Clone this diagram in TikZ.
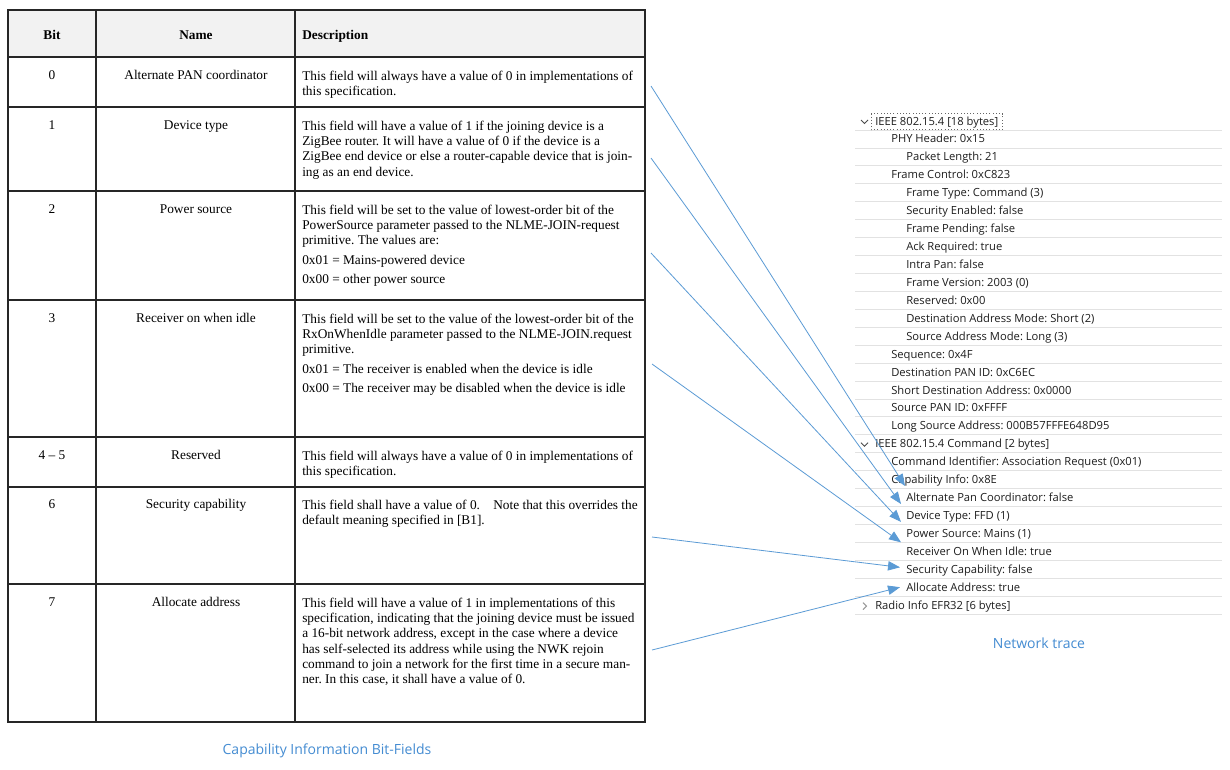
\documentclass[tikz,border=0pt]{standalone}
\usepackage{fontspec}
\setmainfont{Liberation Serif}
\newfontfamily\uifont{Open Sans}
\usetikzlibrary{arrows.meta}
\frenchspacing

\definecolor{arrowblue}{RGB}{91,155,213}
\definecolor{capblue}{RGB}{68,140,210}
\definecolor{headgray}{RGB}{242,242,242}
\definecolor{sepgray}{RGB}{226,226,226}
\definecolor{tracetext}{RGB}{30,30,30}

\tikzset{
  tabline/.style={line width=1.1pt, black!85},
  cell/.style={inner sep=0pt, font=\fontsize{10pt}{11.5pt}\selectfont},
  head/.style={cell, anchor=base, font=\fontsize{10pt}{11.5pt}\selectfont\bfseries},
  desc/.style={cell, anchor=north west, align=left},
  trow/.style={inner sep=0pt, anchor=mid west, text=tracetext,
    font=\uifont\fontsize{8.4pt}{10pt}\selectfont},
  sepline/.style={sepgray, line width=0.6pt},
  chev/.style={line width=0.7pt, black!70},
  caption/.style={inner sep=0pt, text=capblue, font=\uifont\fontsize{10.5pt}{12pt}\selectfont}
}

\begin{document}
\begin{tikzpicture}[x=0.75pt,y=-0.75pt]

        \path[fill=white,use as bounding box] (0,0) rectangle (1230,769);

        % table
        \fill[headgray] (8,10) rectangle (645,57);
        \draw[tabline] (8,10) rectangle (645,722);
        \draw[tabline] (96,10) -- (96,722);
        \draw[tabline] (295,10) -- (295,722);
        \draw[tabline] (8,57) -- (645,57);
        \draw[tabline] (8,107) -- (645,107);
        \draw[tabline] (8,191) -- (645,191);
        \draw[tabline] (8,300) -- (645,300);
        \draw[tabline] (8,437) -- (645,437);
        \draw[tabline] (8,487) -- (645,487);
        \draw[tabline] (8,584) -- (645,584);

        \node[head] (hbit)  at (52,39)  {Bit};
        \node[head] (hname) at (196,39) {Name};
        \node[head,anchor=base west] (hdesc) at (302,39) {Description};

        \begin{scope}[every node/.style={cell,anchor=base}]
          \node (b0) at (52,79.5)  {0};
          \node (b1) at (52,129.5) {1};
          \node (b2) at (52,213.5) {2};
          \node (b3) at (52,322.5) {3};
          \node (b4) at (52,459.5) {4 -- 5};
          \node (b6) at (52,508.5) {6};
          \node (b7) at (52,606.5) {7};
          \node (n0) at (196,79.5)  {Alternate PAN coordinator};
          \node (n1) at (196,129.5) {Device type};
          \node (n2) at (196,213.5) {Power source};
          \node (n3) at (196,322.5) {Receiver on when idle};
          \node (n4) at (196,459.5) {Reserved};
          \node (n6) at (196,508.5) {Security capability};
          \node (n7) at (196,606.5) {Allocate address};
        \end{scope}

        \node[desc] (d0) at (302,70.5) {This field will always have a value of 0 in implementations of\\
          this specification.};
        \node[desc] (d1) at (302,120.5) {This field will have a value of 1 if the joining device is a\\
          ZigBee router. It will have a value of 0 if the device is a\\
          ZigBee end device or else a router-capable device that is join-\\
          ing as an end device.};
        \node[desc] (d2) at (302,204.5) {This field will be set to the value of lowest-order bit of the\\
          PowerSource parameter passed to the NLME-JOIN-request\\
          primitive. The values are:\\[3pt]
          0x01 = Mains-powered device\\[3pt]
          0x00 = other power source};
        \node[desc] (d3) at (302,313.5) {This field will be set to the value of the lowest-order bit of the\\
          RxOnWhenIdle parameter passed to the NLME-JOIN.request\\
          primitive.\\[3pt]
          0x01 = The receiver is enabled when the device is idle\\[3pt]
          0x00 = The receiver may be disabled when the device is idle};
        \node[desc] (d4) at (302,450.5) {This field will always have a value of 0 in implementations of\\
          this specification.};
        \node[desc] (d6) at (302,499.5) {This field shall have a value of 0.\quad Note that this overrides the\\
          default meaning specified in [B1].};
        \node[desc] (d7) at (302,597.5) {This field will have a value of 1 in implementations of this\\
          specification, indicating that the joining device must be issued\\
          a 16-bit network address, except in the case where a device\\
          has self-selected its address while using the NWK rejoin\\
          command to join a network for the first time in a secure man-\\
          ner. In this case, it shall have a value of 0.};

        \node[caption] (captab) at (327,751) {Capability Information Bit-Fields};

        % network trace
        \foreach \k in {0,...,27}
          \draw[sepline] (855,{130+17.93*\k}) -- (1222,{130+17.93*\k});

        \begin{scope}[every node/.style={trow}]
          \node (t0)  at (875,122.0) {IEEE 802.15.4 [18 bytes]};
          \node (t1)  at (891,139.9) {PHY Header: 0x15};
          \node (t2)  at (906,157.9) {Packet Length: 21};
          \node (t3)  at (891,175.8) {Frame Control: 0xC823};
          \node (t4)  at (906,193.7) {Frame Type: Command (3)};
          \node (t5)  at (906,211.7) {Security Enabled: false};
          \node (t6)  at (906,229.6) {Frame Pending: false};
          \node (t7)  at (906,247.5) {Ack Required: true};
          \node (t8)  at (906,265.4) {Intra Pan: false};
          \node (t9)  at (906,283.4) {Frame Version: 2003 (0)};
          \node (t10) at (906,301.3) {Reserved: 0x00};
          \node (t11) at (906,319.2) {Destination Address Mode: Short (2)};
          \node (t12) at (906,337.2) {Source Address Mode: Long (3)};
          \node (t13) at (891,355.1) {Sequence: 0x4F};
          \node (t14) at (891,373.0) {Destination PAN ID: 0xC6EC};
          \node (t15) at (891,391.0) {Short Destination Address: 0x0000};
          \node (t16) at (891,408.9) {Source PAN ID: 0xFFFF};
          \node (t17) at (891,426.8) {Long Source Address: 000B57FFFE648D95};
          \node (t18) at (875,444.7) {IEEE 802.15.4 Command [2 bytes]};
          \node (t19) at (891,462.7) {Command Identifier: Association Request (0x01)};
          \node (t20) at (891,480.6) {Capability Info: 0x8E};
          \node (t21) at (906,498.5) {Alternate Pan Coordinator: false};
          \node (t22) at (906,516.5) {Device Type: FFD (1)};
          \node (t23) at (906,534.4) {Power Source: Mains (1)};
          \node (t24) at (906,552.3) {Receiver On When Idle: true};
          \node (t25) at (906,570.3) {Security Capability: false};
          \node (t26) at (906,588.2) {Allocate Address: true};
          \node (t27) at (875,606.1) {Radio Info EFR32 [6 bytes]};
        \end{scope}

        \draw[black!60,dotted] ([shift={(-4,-8.5)}]t0.mid west) rectangle ([shift={(4,7.5)}]t0.mid east);
        \draw[chev] ([shift={(-14,-2)}]t0.mid west) -- ++(3.5,3.5) -- ++(3.5,-3.5);
        \draw[chev] ([shift={(-14,-2)}]t18.mid west) -- ++(3.5,3.5) -- ++(3.5,-3.5);
        \draw[chev,black!40] ([shift={(-12,-3.5)}]t27.mid west) -- ++(3.5,3.5) -- ++(-3.5,3.5);

        \node[caption] (captrace) at (1039,643) {Network trace};

        % arrows from the table to the trace
        \coordinate (s0) at (651,86);
        \coordinate (s1) at (651,158);
        \coordinate (s2) at (651,253);
        \coordinate (s3) at (652,364);
        \coordinate (s6) at (652,537);
        \coordinate (s7) at (652,650);

        \begin{scope}[every edge/.style={draw,arrowblue,line width=0.6pt,
            -{Triangle[length=9pt,width=7pt]}}]
          \path (s0) edge ([shift={(-1,-12.5)}]t21.mid west);
          \path (s1) edge ([shift={(-5,-12.5)}]t22.mid west);
          \path (s2) edge ([shift={(-5,-12.5)}]t23.mid west);
          \path (s3) edge ([shift={(-5,-10)}]t24.mid west);
          \path (s6) edge ([shift={(-6,-3)}]t25.mid west);
          \path (s7) edge ([shift={(-6,-1)}]t26.mid west);
        \end{scope}

      \end{tikzpicture}
\end{document}
